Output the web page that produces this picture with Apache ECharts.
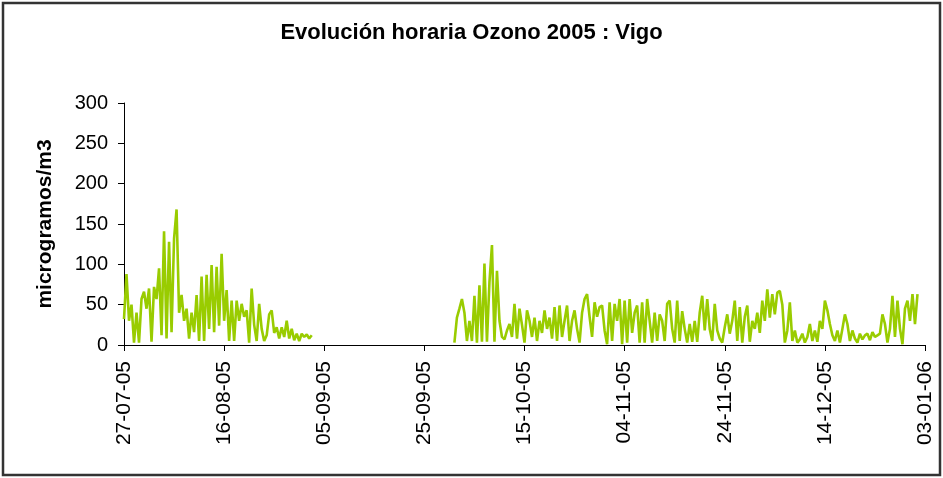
<!DOCTYPE html>
<html>
<head>
<meta charset="utf-8">
<script src="https://cdn.jsdelivr.net/npm/echarts@6/dist/echarts.min.js"></script>
<style>
  html, body { margin: 0; padding: 0; background: #fff; }
  #chart { width: 943px; height: 478px; }
</style>
</head>
<body>
<div id="chart"></div>
<script>
var tramo1Inicio = 0;   // dias desde 27-07-05
var tramo1 = [32, 88, 30, 50, 3, 40, 3, 57, 66, 45,
  70, 4, 72, 57, 95, 12, 141, 8, 128, 16,
  132, 168, 40, 62, 30, 45, 8, 40, 16, 62,
  5, 85, 5, 87, 20, 99, 16, 97, 24, 113,
  30, 68, 5, 55, 5, 55, 30, 51, 35, 43,
  3, 70, 25, 5, 51, 20, 5, 12, 38, 43,
  15, 22, 8, 22, 10, 30, 8, 20, 6, 14,
  5, 14, 10, 13, 8, 12];

var tramo2Inicio = 66;  // 01-10-05
var tramo2 = [3, 34, 45, 57, 40, 5, 30, 5, 61, 3,
  74, 4, 101, 4, 78, 124, 4, 92, 30, 10,
  7, 18, 26, 10, 51, 8, 45, 25, 3, 43,
  30, 10, 34, 5, 30, 15, 43, 20, 34, 8,
  47, 5, 49, 10, 30, 49, 5, 30, 43, 20,
  3, 40, 57, 63, 35, 10, 53, 35, 47, 49,
  18, 1, 53, 5, 51, 30, 57, 1, 55, 3,
  57, 15, 40, 49, 3, 53, 3, 57, 30, 3,
  40, 5, 38, 30, 5, 51, 55, 20, 3, 55,
  5, 42, 20, 3, 26, 4, 30, 4, 40, 61,
  18, 57, 20, 5, 51, 18, 8, 3, 22, 38,
  14, 30, 55, 5, 47, 3, 35, 49, 4, 30,
  20, 40, 15, 55, 30, 69, 34, 63, 38, 65,
  67, 50, 3, 18, 53, 5, 18, 3, 7, 14,
  3, 10, 26, 5, 18, 4, 30, 20, 55, 43,
  26, 12, 5, 18, 3, 20, 38, 26, 5, 18,
  8, 3, 14, 7, 12, 14, 6, 16, 10, 12,
  14, 38, 26, 3, 20, 61, 10, 55, 20, 1,
  45, 55, 30, 63, 26, 63];

var paso = 0.5;  // medio dia
var diasMax = 160;
var diasIntervalo = 20;
var yTicks = [0, 50, 100, 150, 200, 250, 300];

function serie(inicio, valores) {
  var d = [];
  for (var i = 0; i < valores.length; i++) {
    d.push([inicio + i * paso, valores[i]]);
  }
  return d;
}

function fecha(dias) {
  var f = new Date(2005, 6, 27 + Math.round(dias));
  var dd = ("0" + f.getDate()).slice(-2);
  var mm = ("0" + (f.getMonth() + 1)).slice(-2);
  var yy = ("" + f.getFullYear()).slice(-2);
  return dd + "-" + mm + "-" + yy;
}

var fuente = "'Liberation Sans', Arial, sans-serif";
var chart = echarts.init(document.getElementById("chart"));

chart.setOption({
  animation: false,
  backgroundColor: "#fff",
  title: {
    text: "Evolución horaria Ozono 2005 : Vigo",
    left: "center",
    top: 17,
    textStyle: { fontFamily: fuente, fontSize: 22, fontWeight: "bold", color: "#000" }
  },
  graphic: [{
    type: "rect",
    shape: { x: 3, y: 3, width: 937, height: 472 },
    style: { fill: "none", stroke: "#333", lineWidth: 2.5 },
    silent: true
  }],
  grid: { left: 124, right: 18, top: 103, bottom: 133, outerBoundsMode: "none" },
  xAxis: {
    type: "value",
    min: 0,
    max: diasMax,
    interval: diasIntervalo,
    axisLine: { show: true, lineStyle: { color: "#000", width: 1 } },
    axisTick: { show: true, length: 6, lineStyle: { color: "#000" } },
    splitLine: { show: false },
    axisLabel: {
      rotate: 90,
      margin: 16,
      color: "#000",
      fontFamily: fuente,
      fontSize: 21,
      showMinLabel: true,
      showMaxLabel: true,
      formatter: function (v) { return fecha(v); }
    }
  },
  yAxis: {
    type: "value",
    min: yTicks[0],
    max: yTicks[yTicks.length - 1],
    interval: 50,
    name: "microgramos/m3",
    nameLocation: "middle",
    nameRotate: 90,
    nameGap: 68,
    nameTextStyle: { fontFamily: fuente, fontSize: 21, fontWeight: "bold", color: "#000" },
    axisLine: { show: true, lineStyle: { color: "#000", width: 1 } },
    axisTick: { show: true, length: 6, lineStyle: { color: "#000" } },
    splitLine: { show: false },
    axisLabel: { margin: 16, color: "#000", fontFamily: fuente, fontSize: 20 }
  },
  series: [
    {
      type: "line",
      data: serie(tramo1Inicio, tramo1),
      showSymbol: false,
      lineStyle: { color: "#99CC00", width: 2.6 },
      itemStyle: { color: "#99CC00" }
    },
    {
      type: "line",
      data: serie(tramo2Inicio, tramo2),
      showSymbol: false,
      lineStyle: { color: "#99CC00", width: 2.6 },
      itemStyle: { color: "#99CC00" }
    }
  ]
});
</script>
</body>
</html>
